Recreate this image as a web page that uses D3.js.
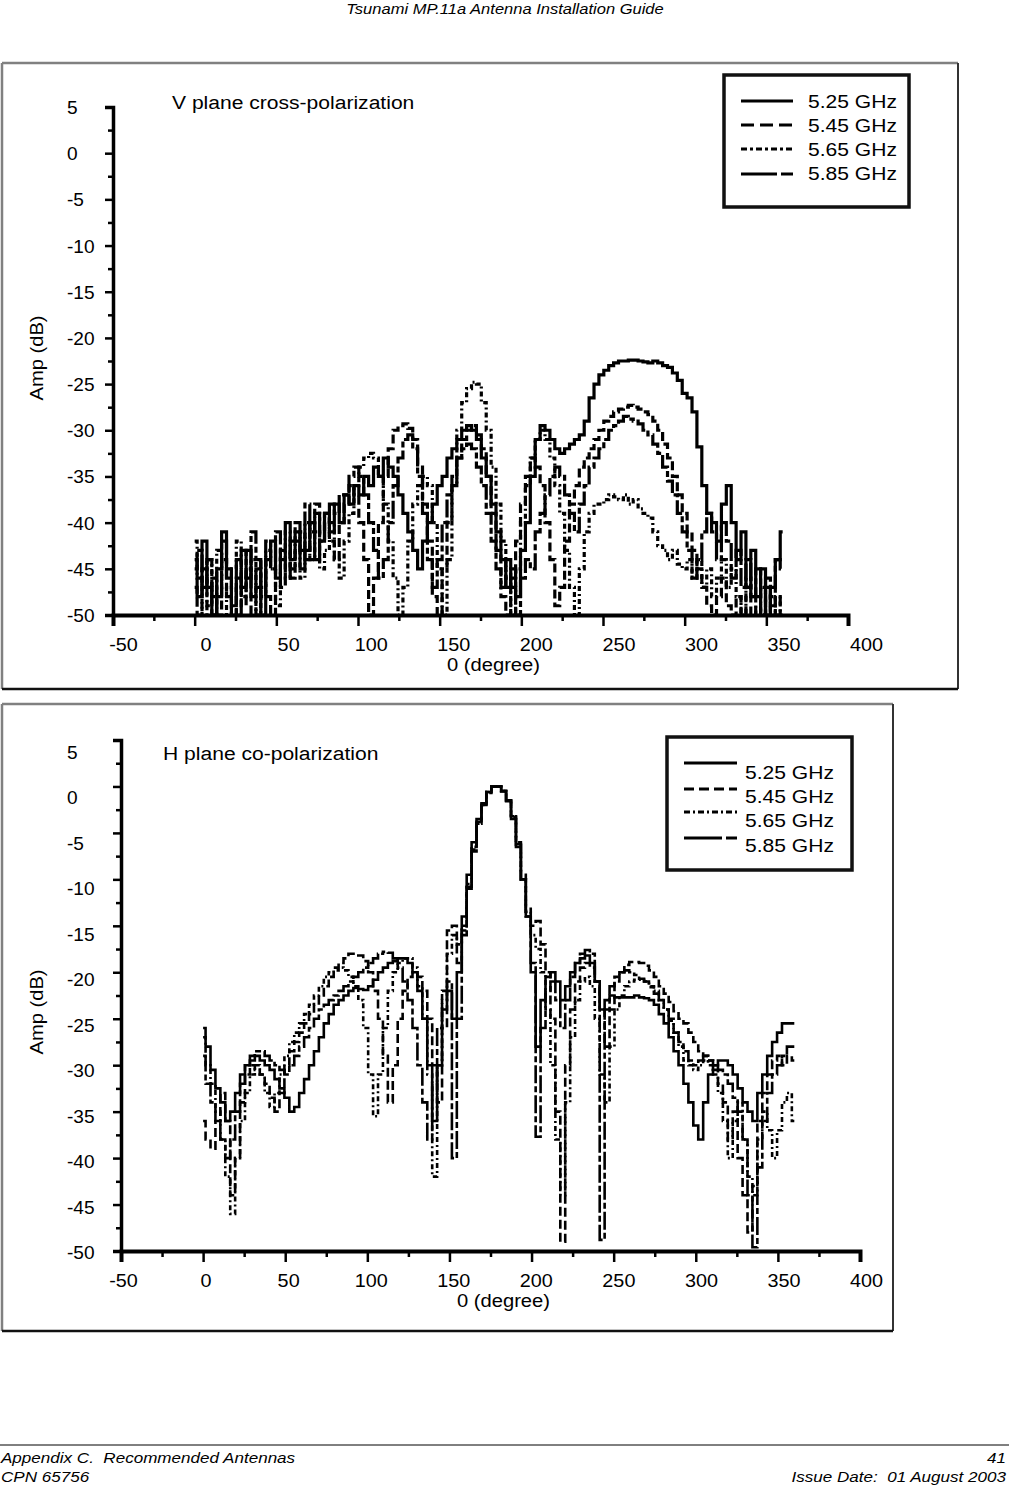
<!DOCTYPE html>
<html><head><meta charset="utf-8">
<script src="https://cdn.jsdelivr.net/npm/d3@7"></script>
<style>
body{margin:0;background:#fff}
svg{display:block}
text{font-family:"Liberation Sans",Arimo,Arial,sans-serif;fill:#000;white-space:pre}
</style>
</head><body>
<svg id="page" width="1009" height="1487"></svg>
<script>
// ---------- DATA ----------
const angles = d3.range(0, 361, 3); // degrees 0..360 step 3
const seriesNames = ["5.25 GHz", "5.45 GHz", "5.65 GHz", "5.85 GHz"];
const xTickValues = d3.range(-50, 401, 25);
const yTickValues = d3.range(-50, 5.1, 2.5);

// V plane cross-polarization (dB)
const vCross525 = [-44,-48,-42,-47,-50,-45,-41,-46,-49,-44,-47,-43,-48,-45,-50,-44,-42,-46,-43,-40,-44,-41,-45,-43,-40,-44,-42,-39,-41,-38,-40,-37,-38,-36,-37,-35,-36,-34,-35,-33,-34,-35,-37,-39,-41,-43,-45,-42,-40,-38,-36,-35,-33,-32,-31,-30,-29.5,-30,-31,-33,-35,-38,-41,-44,-47,-45,-48,-43,-40,-35,-31,-29.5,-30,-31,-32,-32.5,-32,-31.5,-31,-30.5,-29,-26.5,-25,-24,-23.5,-23,-22.7,-22.5,-22.5,-22.4,-22.4,-22.5,-22.6,-22.7,-22.5,-22.7,-23,-23.2,-23.8,-24.6,-26,-26.5,-28,-31.8,-36,-39,-40,-42,-38,-36,-40,-44,-41,-47,-43,-48,-45,-50,-47,-44,-41];
const vCross545 = [-47,-50,-45,-49,-46,-50,-44,-48,-50,-46,-49,-45,-50,-47,-44,-48,-50,-45,-47,-43,-46,-43,-41,-44,-40,-38,-41,-39,-42,-44,-40,-38,-36,-37,-40,-44,-50,-46,-40,-35,-32,-30,-29.5,-29.3,-29.8,-31,-34,-38,-42,-48,-50,-45,-40,-36,-33,-31,-30,-29.5,-30.5,-32,-35,-39,-43,-48,-50,-46,-42,-38,-35,-33,-34,-36,-40,-44,-49,-47,-42,-38,-36,-34,-33,-32,-31,-30,-29,-28.5,-28,-27.7,-27.5,-27.3,-27.5,-27.7,-28,-28.3,-29,-30,-31.5,-33,-35,-37,-39,-41,-43,-45,-47,-49,-50,-48,-46,-49,-50,-48,-50,-47,-50,-49,-50,-47,-50,-48,-50];
const vCross565 = [-42,-46,-50,-44,-48,-43,-47,-50,-45,-42,-48,-46,-44,-50,-47,-43,-45,-49,-44,-41,-45,-42,-46,-40,-44,-41,-45,-43,-40,-44,-46,-42,-39,-36,-34,-33,-32.5,-33,-35,-38,-42,-46,-50,-47,-42,-38,-36,-35,-36,-40,-45,-50,-44,-36,-30,-27,-25.5,-24.8,-25,-27,-30,-34,-38,-42,-46,-50,-45,-40,-36,-33,-31,-30,-31,-33,-36,-39,-43,-47,-50,-45,-41,-39,-38,-38,-37.5,-37,-37.2,-37.5,-37,-38,-37.5,-38.5,-39,-39.5,-41,-42.5,-43,-44,-43,-44.5,-45,-44,-46,-44,-47,-45,-48,-46,-44,-47,-45,-48,-50,-46,-48,-50,-47,-50,-48,-50,-48];
const vCross585 = [-45,-43,-47,-44,-50,-48,-42,-45,-47,-50,-43,-46,-41,-44,-48,-42,-45,-41,-44,-46,-42,-40,-43,-38,-41,-39,-42,-40,-38,-39,-37,-37,-35,-34,-35,-37,-40,-43,-46,-44,-40,-36,-33,-31,-30.5,-32,-35,-39,-44,-47,-44,-40,-37,-35,-33,-32,-31.5,-32,-34,-36,-39,-42,-45,-47,-44,-47,-50,-46,-44,-45,-41,-39,-37,-35,-34,-35,-37,-39,-41,-38,-36,-34,-33,-32,-31,-30,-29.5,-29,-28.5,-28.8,-29,-29.3,-30,-30.5,-31.5,-32.5,-34,-35.5,-37,-39,-41,-43,-46,-44,-41,-39,-41,-44,-40,-42,-46,-43,-47,-44,-48,-45,-50,-46,-49,-44,-45];

// H plane co-polarization (dB)
const hCo525 = [-26,-28,-30.5,-32.5,-34,-36,-35,-33,-31,-30,-29.5,-29,-29.5,-30,-30.5,-31.5,-32.5,-33.5,-35,-34.5,-33,-31.5,-30,-28.5,-27,-25.5,-24.5,-23.5,-23,-22.5,-22,-21.7,-21.8,-21.9,-21.5,-20.8,-20,-19.5,-19,-18.8,-18.5,-18.5,-19,-20,-22,-25,-30,-36,-30,-24,-22,-25,-20,-14,-9.5,-6,-3.5,-1.8,-0.6,0,0,-0.5,-1.6,-3.5,-6.5,-10,-14,-20,-28,-23,-20.5,-20,-21,-23,-21.5,-20,-19,-18.5,-18.2,-19,-21,-24,-23,-22.5,-22.7,-22.7,-22.7,-22.7,-22.5,-22.7,-22.8,-23,-23.5,-24.5,-25.5,-27,-28.5,-30,-32,-34,-36.5,-38,-34,-31,-30,-29.5,-29.5,-30,-31,-32.5,-34,-35,-36,-33,-31,-29,-27.5,-26.5,-25.5,-25.5,-25.5];
const hCo545 = [-36,-38,-39,-36,-33,-36,-44,-40,-34,-31,-30,-30.5,-31,-32,-33.5,-35,-33,-30,-28.5,-27.5,-26.5,-25.5,-24.5,-23.5,-22.5,-21.5,-20.5,-19.8,-19,-18.5,-18,-18,-18.2,-18.8,-20,-22,-25,-29,-34,-30,-25,-22,-20.5,-20,-20.5,-22,-25,-30,-34,-26,-15.5,-15,-19,-16,-11,-7,-4,-2,-0.7,0,0,-0.5,-1.5,-3.2,-6,-9.5,-13,-15,-14.5,-17,-20,-25,-35,-49,-30,-24,-21,-19.5,-19,-19.5,-21,-24,-28,-24,-21,-20,-19.2,-18.9,-18.9,-19,-19.3,-19.8,-20.5,-21.5,-22.3,-23.2,-24.2,-25,-25.5,-26.5,-27.5,-28.5,-29,-29.5,-30.5,-32,-34,-38,-35,-40,-44,-48,-43,-36,-33,-31,-29.5,-29,-30,-29,-29.5];
const hCo565 = [-27,-30,-32,-35,-38,-42,-46,-40,-36,-33,-31,-30,-31,-33,-34.5,-33,-31,-29,-27.5,-26.5,-25.5,-24.5,-23.5,-22.5,-21.5,-20.5,-20,-19.5,-19.5,-19.8,-20.5,-21.5,-23,-26,-31,-35.5,-31,-26,-22,-20,-19,-18.5,-18.5,-19.5,-21.5,-25,-31,-42,-30,-23,-18,-16,-17,-15,-10.5,-6.5,-3.8,-1.9,-0.6,0,0,-0.5,-1.5,-3.3,-6.3,-10,-13.5,-16,-17.5,-20,-24,-30,-38,-44,-34,-27,-23,-21,-20.5,-21.5,-25,-31,-34,-28,-24,-22.5,-21.5,-21,-20.8,-20.8,-21,-21.5,-22,-23,-24,-25,-26.5,-28,-29.5,-30,-30.5,-30,-29.5,-30,-31,-33,-36,-40,-36,-34,-38,-42,-44,-38,-35,-37,-40,-37,-34,-33,-36];
const hCo585 = [-29,-32,-34,-36,-38,-40,-38,-35,-32,-30,-29,-28.5,-28.5,-29,-29.5,-30,-30.5,-31,-30,-29,-28,-27,-26,-25,-24,-23.5,-23,-22.5,-22,-21.5,-21,-20.5,-20,-19.5,-19,-18.5,-18,-17.8,-17.9,-18.5,-19.5,-21,-23,-26,-30,-34,-38,-32,-26,-22,-21,-40,-25,-15.5,-10.8,-6.8,-4,-2,-0.6,0,0,-0.5,-1.5,-3.2,-6.2,-10,-14,-19,-37.7,-26,-22,-21,-23,-26,-23,-20.5,-19,-18,-17.6,-18,-21,-48.8,-24,-21.5,-20.5,-20,-19.8,-20,-20.3,-20.7,-21,-21.6,-22.3,-23,-24,-25.2,-26.5,-27.5,-28.5,-29.5,-30,-29.5,-29,-29.5,-30,-30.5,-31,-32,-33.5,-35,-38,-44,-49.6,-41,-36,-33,-31,-30,-29,-28,-28];

// ---------- STYLE ----------
const dashes = [null, "9,4", "5,3,2,3", "18,3,6,3"];
const legendDashesTop = [null, "13,6", "6,3,3,3", "36,4,12"];
const legendDashesBot = [null, "10,5", "6,3,2,3", "38,4,12"];

const svg = d3.select("#page");

function stretch(sel, k) {
  sel.each(function () {
    const w = this.getComputedTextLength();
    d3.select(this).attr("textLength", w * k).attr("lengthAdjust", "spacingAndGlyphs");
  });
}

// header
svg.append("text").attr("x", 505).attr("y", 14).attr("text-anchor", "middle")
  .style("font-style", "italic").style("font-size", "15px")
  .text("Tsunami MP.11a Antenna Installation Guide").call(stretch, 1.1);

// footer
svg.append("line").attr("x1", 0).attr("x2", 1009).attr("y1", 1445).attr("y2", 1445).attr("stroke", "#000").attr("stroke-width", 1);
const foot = [
  {t: "Appendix C.  Recommended Antennas", x: 1, y: 1463, a: "start"},
  {t: "41", x: 1006, y: 1463, a: "end"},
  {t: "CPN 65756", x: 1, y: 1482, a: "start"},
  {t: "Issue Date:  01 August 2003", x: 1006, y: 1482, a: "end"}
];
svg.selectAll("text.foot").data(foot).enter().append("text").attr("class", "foot")
  .attr("x", d => d.x).attr("y", d => d.y).attr("text-anchor", d => d.a)
  .style("font-style", "italic").style("font-size", "15.5px").text(d => d.t).call(stretch, 1.1);

function drawChart(cfg) {
  const g = svg.append("g");
  const x = d3.scaleLinear().domain([-50, 400]).range([cfg.x0, cfg.x1]);
  const y = d3.scaleLinear().domain([-50, 5]).range([cfg.y0, cfg.y1]);

  // frame (bevel-like)
  const f = cfg.frame;
  g.append("line").attr("x1", f[0]).attr("y1", f[1]).attr("x2", f[2]).attr("y2", f[1]).attr("stroke", "#808080").attr("stroke-width", 2.5);
  g.append("line").attr("x1", f[0]).attr("y1", f[1]).attr("x2", f[0]).attr("y2", f[3]).attr("stroke", "#808080").attr("stroke-width", 2.5);
  g.append("line").attr("x1", f[2]).attr("y1", f[1]).attr("x2", f[2]).attr("y2", f[3]).attr("stroke", "#333").attr("stroke-width", 2);
  g.append("line").attr("x1", f[0]).attr("y1", f[3]).attr("x2", f[2]).attr("y2", f[3]).attr("stroke", "#111").attr("stroke-width", 2.5);

  // curves
  const line = d3.line().x((d, i) => x(angles[i])).y(d => y(d)).curve(d3.curveStep);
  cfg.series.forEach((s, k) => {
    g.append("path").datum(s).attr("d", line).attr("fill", "none")
      .attr("stroke", "#000").attr("stroke-width", cfg.lw)
      .attr("stroke-dasharray", dashes[k]).attr("stroke-linejoin", "miter");
  });

  // x axis
  const xAxis = d3.axisBottom(x).tickValues(xTickValues).tickSizeOuter(0)
    .tickSize(11).tickPadding(12).tickFormat(d => d % 50 === 0 ? d : "");
  const gx = g.append("g").attr("transform", `translate(0,${cfg.y0})`).call(xAxis);
  gx.select(".domain").attr("stroke", "#000").attr("stroke-width", 4);
  gx.selectAll(".tick line").attr("stroke", "#000").attr("stroke-width", 2.5)
    .attr("y2", d => d % 50 === 0 ? 11 : 6);
  gx.selectAll(".tick text").attr("font-family", null).style("font-size", "18px")
    .attr("dx", d => cfg.xlOff(d)).call(stretch, 1.1);

  // y axis
  const yAxis = d3.axisLeft(y).tickValues(yTickValues).tickSizeOuter(0)
    .tickSize(8).tickFormat(d => d % 5 === 0 ? d : "");
  const gy = g.append("g").attr("transform", `translate(${cfg.x0},0)`).call(yAxis);
  gy.select(".domain").attr("stroke", "#000").attr("stroke-width", 3.5);
  gy.selectAll(".tick line").attr("stroke", "#000").attr("stroke-width", 2.5)
    .attr("x2", d => d % 5 === 0 ? -8 : -5);
  gy.selectAll(".tick text").attr("font-family", null).style("font-size", "18px")
    .attr("text-anchor", "start").attr("x", 67 - cfg.x0).attr("dy", d => (cfg.ylOff(d) + 6.5) + "px")
    .call(stretch, 1.06);

  // axis titles
  g.append("text").attr("x", (cfg.x0 + cfg.x1) / 2 + 13).attr("y", cfg.y0 + 56).attr("text-anchor", "middle")
    .style("font-size", "18px").text("0 (degree)").call(stretch, 1.12);
  g.append("text").attr("transform", `translate(${cfg.ylabX},${cfg.ylabY}) rotate(-90)`).attr("text-anchor", "middle")
    .style("font-size", "18px").text("Amp (dB)").call(stretch, 1.12);

  // title
  g.append("text").attr("x", cfg.titleX).attr("y", cfg.titleY).style("font-size", "18px")
    .text(cfg.title).call(stretch, 1.17);

  // legend
  const L = cfg.legend;
  g.append("rect").attr("x", L.x).attr("y", L.y).attr("width", L.w).attr("height", L.h)
    .attr("fill", "#fff").attr("stroke", "#111").attr("stroke-width", 3.5);
  seriesNames.forEach((n, k) => {
    g.append("line").attr("x1", L.lx0).attr("x2", L.lx1).attr("y1", L.ly[k]).attr("y2", L.ly[k])
      .attr("stroke", "#000").attr("stroke-width", 3).attr("stroke-dasharray", L.dash[k]);
    g.append("text").attr("x", L.tx).attr("y", L.ty[k]).attr("dy", "0.36em").style("font-size", "18px")
      .text(n).call(stretch, 1.17);
  });
}

drawChart({
  frame: [2, 63, 958, 689],
  x0: 113, x1: 848, y0: 615, y1: 107,
  series: [vCross525, vCross545, vCross565, vCross585], lw: 3.2,
  xlOff: d => 10 + (d + 50) * 0.018,
  ylOff: d => 0,
  ylabX: 43, ylabY: 358,
  title: "V plane cross-polarization", titleX: 172, titleY: 109,
  legend: {x: 724, y: 75, w: 185, h: 132, lx0: 741, lx1: 793, ly: [101, 125, 149, 174], dash: legendDashesTop,
    tx: 808, ty: [102, 126, 150, 174]}
});

drawChart({
  frame: [2, 704, 893, 1331],
  x0: 121, x1: 860, y0: 1251, y1: 740,
  series: [hCo525, hCo545, hCo565, hCo585], lw: 2.6,
  xlOff: d => 2 + (d + 50) * 0.009,
  ylOff: d => 1 + (d + 50) * 0.2,
  ylabX: 43, ylabY: 1012,
  title: "H plane co-polarization", titleX: 163, titleY: 760,
  legend: {x: 667, y: 737, w: 185, h: 133, lx0: 684, lx1: 737, ly: [763, 789, 812, 838], dash: legendDashesBot,
    tx: 745, ty: [773, 797, 821, 846]}
});
</script>
</body></html>
